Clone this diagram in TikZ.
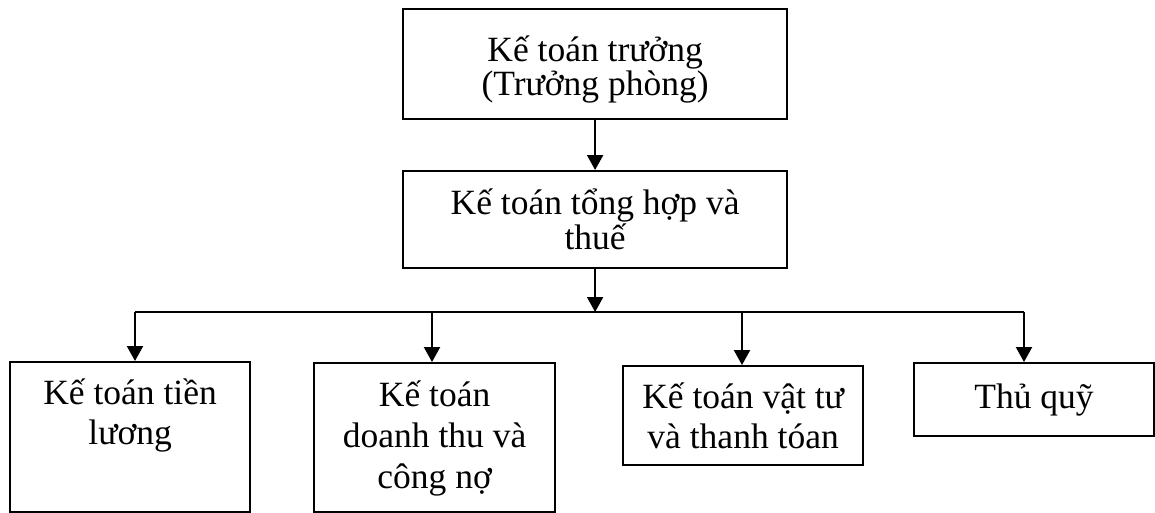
\documentclass[tikz,border=0pt]{standalone}
\usepackage{fontspec}
\setmainfont{Liberation Serif}
\usetikzlibrary{arrows.meta}
\newcommand{\boxtext}[5]{\parbox[t][#2pt][t]{#1pt}{\centering\baselineskip=#4pt\rule{0pt}{#3pt}#5\par}}
\tikzset{
  orgbox/.style={draw, line width=2.2pt, inner sep=0pt, anchor=north west,
    font=\fontsize{35.5}{40}\selectfont},
  conn/.style={line width=2.2pt, -{Triangle[width=16pt,length=15pt]}},
  busline/.style={line width=2.2pt}
}
\begin{document}
\begin{tikzpicture}[x=1pt,y=-1pt]
\useasboundingbox (0,0) rectangle (1155,512);
\node[orgbox] (T) at (402,8) {\boxtext{384}{110}{52}{34}{Kế toán trưởng\\(Trưởng phòng)}};
\node[orgbox] (S) at (402,170) {\boxtext{384}{97}{43}{35}{Kế toán tổng hợp và\\thuế}};
\node[orgbox] (A) at (9,361) {\boxtext{240}{150}{42}{40}{Kế toán tiền\\lương}};
\node[orgbox] (B) at (313,362) {\boxtext{241}{149}{43}{41}{Kế toán\\doanh thu và\\công nợ}};
\node[orgbox] (C) at (622,365) {\boxtext{240}{99}{42}{40}{Kế toán vật tư\\và thanh tóan}};
\node[orgbox] (D) at (913,362) {\boxtext{240}{73}{45}{40}{Thủ quỹ}};
\coordinate (bus) at (S.south |- 0,312);
\coordinate (bA) at (135,312);
\coordinate (bB) at (432,312);
\coordinate (bC) at (742,312);
\coordinate (bD) at (1024,312);
\draw[conn] (T.south) -- (S.north);
\draw[conn] (S.south) -- (bus);
\draw[busline] (bA) -- (bD);
\draw[conn] (bA) -- (bA |- A.north);
\draw[conn] (bB) -- (bB |- B.north);
\draw[conn] (bC) -- (bC |- C.north);
\draw[conn] (bD) -- (bD |- D.north);
\end{tikzpicture}
\end{document}
